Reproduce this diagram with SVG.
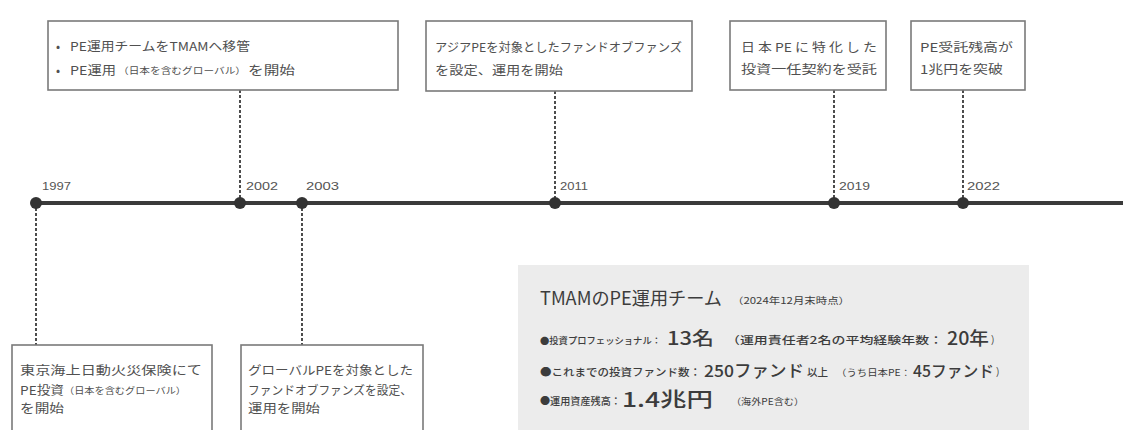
<svg xmlns="http://www.w3.org/2000/svg" width="1123" height="430" viewBox="0 0 1123 430">
<style>
.box{fill:#fff;stroke:#7a7a7a;stroke-width:1.6}
.t{font-family:"Noto Sans CJK JP","Liberation Sans",sans-serif;fill:#505050;font-size:12px}
.s{font-family:"Noto Sans CJK JP","Liberation Sans",sans-serif;fill:#505050;font-size:9px}
.yr{font-family:"Liberation Sans","Noto Sans CJK JP",sans-serif;fill:#555;font-size:11px}
.p{font-family:"Noto Sans CJK JP","Liberation Sans",sans-serif;fill:#3c3c3c;font-size:10.5px;font-weight:500}
.pb{font-family:"Noto Sans CJK JP","Liberation Sans",sans-serif;fill:#3c3c3c;font-size:18px;font-weight:500}
.ps{font-family:"Noto Sans CJK JP","Liberation Sans",sans-serif;fill:#3c3c3c;font-size:9px}
.dash{stroke:#3a3a3a;stroke-width:1.8;stroke-dasharray:3 2;fill:none}
.dot{fill:#333}
</style>
<rect width="1123" height="430" fill="#fff"/>
<g id="connectors">
<line class="dash" x1="240" y1="90" x2="240" y2="203"/>
<line class="dash" x1="555" y1="91" x2="555" y2="203"/>
<line class="dash" x1="834" y1="90" x2="834" y2="203"/>
<line class="dash" x1="963" y1="90" x2="963" y2="203"/>
<line class="dash" x1="36" y1="203" x2="36" y2="345"/>
<line class="dash" x1="302" y1="203" x2="302" y2="345"/>
</g>
<g id="timeline">
<line x1="35" y1="203" x2="1123" y2="203" stroke="#3a3a3a" stroke-width="4"/>
<circle class="dot" cx="36" cy="203" r="6"/>
<circle class="dot" cx="240" cy="203" r="6"/>
<circle class="dot" cx="302" cy="203" r="6"/>
<circle class="dot" cx="555" cy="203" r="6"/>
<circle class="dot" cx="834" cy="203" r="6"/>
<circle class="dot" cx="963" cy="203" r="6"/>
<text class="yr" x="42" y="190" textLength="29" lengthAdjust="spacingAndGlyphs">1997</text>
<text class="yr" x="246" y="190" textLength="32" lengthAdjust="spacingAndGlyphs">2002</text>
<text class="yr" x="306" y="190" textLength="33" lengthAdjust="spacingAndGlyphs">2003</text>
<text class="yr" x="560" y="190" textLength="28" lengthAdjust="spacingAndGlyphs">2011</text>
<text class="yr" x="839" y="190" textLength="31" lengthAdjust="spacingAndGlyphs">2019</text>
<text class="yr" x="967" y="190" textLength="33" lengthAdjust="spacingAndGlyphs">2022</text>
</g>
<g id="node-2002">
<rect class="box" x="48" y="21" width="350" height="69"/>
<text class="t" x="56" y="51">•</text>
<text class="t" x="70" y="51" textLength="180" lengthAdjust="spacingAndGlyphs">PE運用チームをTMAMへ移管</text>
<text class="t" x="56" y="75">•</text>
<text class="t" x="70" y="75" textLength="46" lengthAdjust="spacingAndGlyphs">PE運用</text>
<text class="s" x="118" y="74" textLength="128" lengthAdjust="spacingAndGlyphs">（日本を含むグローバル）</text>
<text class="t" x="248" y="75" textLength="47" lengthAdjust="spacingAndGlyphs">を開始</text>
</g>
<g id="node-2011">
<rect class="box" x="426" y="21" width="266" height="70"/>
<text class="t" x="435" y="52" textLength="247" lengthAdjust="spacingAndGlyphs">アジアPEを対象としたファンドオブファンズ</text>
<text class="t" x="435" y="75" textLength="128" lengthAdjust="spacingAndGlyphs">を設定、運用を開始</text>
</g>
<g id="node-2019">
<rect class="box" x="730" y="21" width="156" height="69"/>
<text class="t" x="741" y="52" textLength="136" lengthAdjust="spacingAndGlyphs">日 本 PE に 特 化 し た</text>
<text class="t" x="741" y="74" textLength="136" lengthAdjust="spacingAndGlyphs">投資一任契約を受託</text>
</g>
<g id="node-2022">
<rect class="box" x="911" y="21" width="114" height="69"/>
<text class="t" x="920" y="52" textLength="93" lengthAdjust="spacingAndGlyphs">PE受託残高が</text>
<text class="t" x="920" y="74" textLength="83" lengthAdjust="spacingAndGlyphs">1兆円を突破</text>
</g>
<g id="node-1997">
<rect class="box" x="12" y="345" width="200" height="100"/>
<text class="t" x="20" y="375" textLength="182" lengthAdjust="spacingAndGlyphs">東京海上日動火災保険にて</text>
<text class="t" x="20" y="395" textLength="44" lengthAdjust="spacingAndGlyphs">PE投資</text>
<text class="s" x="64" y="394" textLength="122" lengthAdjust="spacingAndGlyphs">（日本を含むグローバル）</text>
<text class="t" x="20" y="413" textLength="44" lengthAdjust="spacingAndGlyphs">を開始</text>
</g>
<g id="node-2003">
<rect class="box" x="241" y="345" width="182" height="100"/>
<text class="t" x="248" y="375" textLength="165" lengthAdjust="spacingAndGlyphs">グローバルPEを対象とした</text>
<text class="t" x="248" y="395" textLength="164" lengthAdjust="spacingAndGlyphs">ファンドオブファンズを設定、</text>
<text class="t" x="248" y="413" textLength="72" lengthAdjust="spacingAndGlyphs">運用を開始</text>
</g>
<g id="panel">
<rect x="518" y="265" width="511" height="170" fill="#ececec"/>
<text class="pb" x="540" y="305" style="font-size:18px;font-weight:400" textLength="182" lengthAdjust="spacingAndGlyphs">TMAMのPE運用チーム</text>
<text class="ps" x="732" y="304" textLength="118" lengthAdjust="spacingAndGlyphs">（2024年12月末時点）</text>
<text class="p" x="540" y="344" style="font-size:9.2px" textLength="121" lengthAdjust="spacingAndGlyphs">●投資プロフェッショナル：</text>
<text class="pb" x="667" y="345" textLength="47" lengthAdjust="spacingAndGlyphs">13名</text>
<text class="p" x="726" y="344" textLength="217" lengthAdjust="spacingAndGlyphs">（運用責任者2名の平均経験年数：</text>
<text class="pb" x="947" y="345" textLength="42" lengthAdjust="spacingAndGlyphs">20年</text>
<text class="p" x="991" y="344" textLength="8" lengthAdjust="spacingAndGlyphs">）</text>
<text class="p" x="540" y="376" textLength="161" lengthAdjust="spacingAndGlyphs">●これまでの投資ファンド数：</text>
<text class="pb" x="704" y="377" style="font-size:16.5px" textLength="100" lengthAdjust="spacingAndGlyphs">250ファンド</text>
<text class="p" x="807" y="376" textLength="21" lengthAdjust="spacingAndGlyphs">以上</text>
<text class="ps" x="836" y="376" textLength="75" lengthAdjust="spacingAndGlyphs">（うち日本PE：</text>
<text class="pb" x="913" y="377" style="font-size:16px" textLength="81" lengthAdjust="spacingAndGlyphs">45ファンド</text>
<text class="p" x="996" y="376" textLength="8" lengthAdjust="spacingAndGlyphs">）</text>
<text class="p" x="540" y="405" style="font-size:10px" textLength="81" lengthAdjust="spacingAndGlyphs">●運用資産残高：</text>
<text class="pb" x="622" y="407" style="font-size:20px" textLength="91" lengthAdjust="spacingAndGlyphs">1.4兆円</text>
<text class="ps" x="731" y="405" textLength="73" lengthAdjust="spacingAndGlyphs">（海外PE含む）</text>
</g>
</svg>
